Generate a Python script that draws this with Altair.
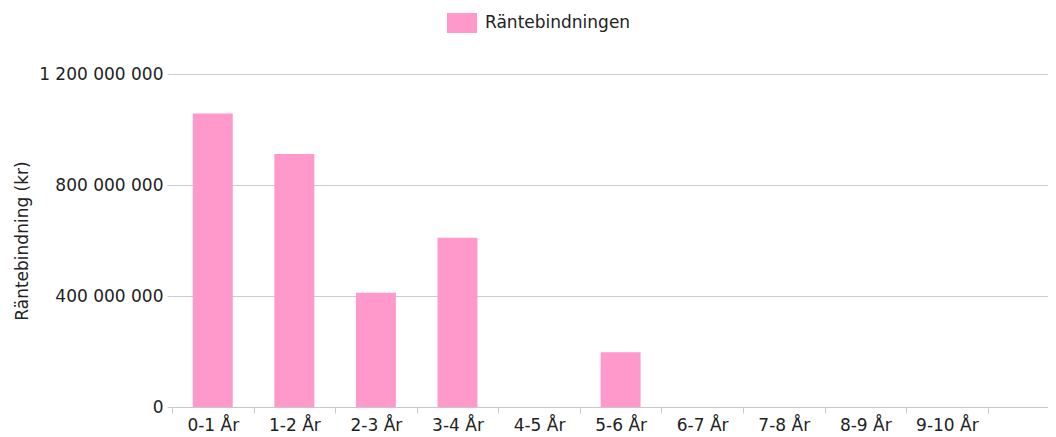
import altair as alt
import pandas as pd

categories = ["0-1 År", "1-2 År", "2-3 År", "3-4 År", "4-5 År",
              "5-6 År", "6-7 År", "7-8 År", "8-9 År", "9-10 År"]
values = [1058000000, 912000000, 412000000, 610000000, 0,
          197000000, 0, 0, 0, 0]
series_name = "Räntebindningen"
y_ticks = [0, 400000000, 800000000, 1200000000]

df = pd.DataFrame({"cat": categories, "val": values, "series": [series_name] * len(categories)})

FONT = "DejaVu Sans"

chart = alt.Chart(df).mark_bar(width=alt.RelativeBandSize(0.49)).encode(
    x=alt.X("cat:N", sort=categories,
            scale=alt.Scale(domain=categories, paddingInner=0, paddingOuter=0.37, align=0),
            axis=alt.Axis(title=None, tickBand="extent", labelAngle=0, grid=False,
                          domainColor="#c8c8c8", tickColor="#c8c8c8", tickSize=6,
                          labelFont=FONT, labelFontSize=17, labelColor="#222222",
                          labelPadding=4)),
    y=alt.Y("val:Q", scale=alt.Scale(domain=[0, 1200000000], nice=False, zero=True),
            axis=alt.Axis(title="Räntebindning (kr)", values=y_ticks,
                          labelExpr="replace(format(datum.value, ','), regexp(',', 'g'), ' ')",
                          domain=False, grid=True, gridColor="#cccccc", gridWidth=1,
                          tickColor="#cccccc", tickSize=5, labelPadding=4,
                          labelFont=FONT, labelFontSize=17, labelColor="#222222",
                          titleFont=FONT, titleFontSize=17, titleFontWeight="normal",
                          titleColor="#222222", titlePadding=7)),
    color=alt.Color("series:N",
                    scale=alt.Scale(domain=[series_name], range=["#ff99cc"]),
                    legend=alt.Legend(title=None, orient="none", legendX=280, legendY=-61,
                                      symbolType="M-1.5,-1H1.5V1H-1.5Z", symbolSize=400,
                                      symbolStrokeWidth=0, symbolOpacity=1,
                                      labelFont=FONT, labelFontSize=17, labelColor="#222222",
                                      labelOffset=13, padding=0))
).properties(
    width=876, height=333,
    padding={"left": 164, "top": 66, "right": 0, "bottom": 30},
    autosize="none"
).configure_view(stroke=None)

chart.save("out.html", embed_options={"renderer": "svg", "actions": False})
